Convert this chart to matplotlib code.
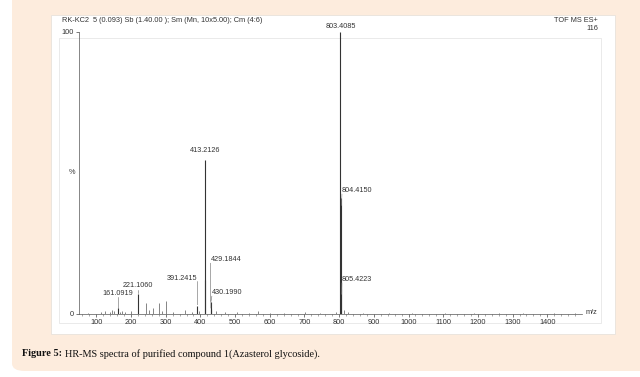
import matplotlib
matplotlib.use("Agg")
import matplotlib.pyplot as plt
from matplotlib.patches import FancyBboxPatch, Rectangle

# ---- data ----
peak_mz = [803.4085, 804.4150, 805.4223, 413.2126, 414.22, 429.1844, 430.1990,
           391.2415, 221.1060, 161.0919]
peak_int = [100.0, 41.0, 9.0, 54.6, 12.0, 4.2, 1.8, 3.0, 7.0, 2.0]

minor_mz = [75, 112, 125, 138, 145, 152, 168, 175, 183, 200, 243, 252, 263, 281, 290,
            301, 322, 355, 375, 397, 445, 472, 505, 540, 565, 602, 640, 701, 745,
            790, 815, 826, 870, 945, 1010, 1105, 1190, 1260, 1330, 1420, 1480]
minor_int = [0.5, 0.8, 1.0, 0.6, 1.5, 1.2, 0.8, 1.0, 0.7, 1.0, 4.0, 1.5, 2.0, 4.0, 1.0,
             4.5, 0.8, 1.5, 0.7, 1.0, 1.0, 0.6, 0.8, 0.5, 0.9, 0.5, 0.5, 0.8, 0.5,
             0.6, 1.5, 0.8, 0.4, 0.4, 0.5, 0.4, 0.4, 0.4, 0.3, 0.4, 0.3]

label_text = ["803.4085", "804.4150", "805.4223", "413.2126", "429.1844",
              "430.1990", "391.2415", "221.1060", "161.0919"]
label_peak = [803.4085, 804.4150, 805.4223, 413.2126, 429.1844, 430.1990,
              391.2415, 221.1060, 161.0919]
label_peak_y = [100.0, 41.0, 9.0, 54.6, 4.2, 1.8, 3.0, 7.0, 2.0]
label_x = [803.4, 808, 808, 413.2, 429.5, 433, 391.2, 221.1, 161.1]
label_y = [100.8, 42.5, 11.0, 56.6, 18.0, 6.3, 11.5, 8.8, 6.2]
label_ha = ["center", "left", "left", "center", "left", "left", "right", "center", "center"]

xticks = [100, 200, 300, 400, 500, 600, 700, 800, 900, 1000, 1100, 1200, 1300, 1400]

W, H = 640, 377
fig = plt.figure(figsize=(6.4, 3.77), dpi=100)
fig.patch.set_facecolor("white")

def fx(px):
    return px / W

def fy(py):
    return 1 - py / H

peach = "#fdecdd"
bg = FancyBboxPatch((fx(12), fy(371)), fx(700) - fx(12), fy(-30) - fy(371),
                    boxstyle="round,pad=0,rounding_size=0.02",
                    transform=fig.transFigure, facecolor=peach, edgecolor="none", zorder=0)
fig.patches.append(bg)
panel = Rectangle((fx(51), fy(334)), fx(615) - fx(51), fy(15) - fy(334),
                  transform=fig.transFigure, facecolor="white", edgecolor="#e8e2dc",
                  linewidth=0.6, zorder=1)
fig.patches.append(panel)
# faint scan frame
frame = Rectangle((fx(59), fy(323)), fx(601) - fx(59), fy(38) - fy(323),
                  transform=fig.transFigure, facecolor="none", edgecolor="#e2e2e2",
                  linewidth=0.5, zorder=2)
fig.patches.append(frame)

ax = fig.add_axes([fx(79), fy(314), fx(582) - fx(79), fy(32) - fy(314)])
ax.set_zorder(3)
ax.patch.set_alpha(0)

col = "#333333"
lab_fs = 5.2
ax.vlines(minor_mz, 0, minor_int, color="#555555", linewidth=0.5)
ax.vlines(peak_mz, 0, peak_int, color=col, linewidth=0.8)

for t, px, py, lx, ly, ha in zip(label_text, label_peak, label_peak_y, label_x, label_y, label_ha):
    ax.text(lx, ly, t, ha=ha, va="bottom", fontsize=lab_fs, color=col,
            family="Liberation Sans")
    if ha == "left" and t not in ("804.4150", "805.4223"):
        ax.plot([lx, px, px], [ly, ly - 2.0, py + 0.3], color="#666666", linewidth=0.4)
    elif ha == "right":
        ax.plot([lx, px], [ly, py + 0.3], color="#666666", linewidth=0.4)
    elif t in ("804.4150", "805.4223"):
        ax.plot([lx, px + 2], [ly, ly - 4], color="#888888", linewidth=0.4)
    elif t in ("221.1060", "161.0919"):
        ax.plot([px, px], [ly - 0.2, py + 0.3], color="#666666", linewidth=0.4)

ax.set_xlim(50, 1500)
ax.set_ylim(0, 100)
ax.set_xticks(xticks)
ax.set_xticks(range(60, 1500, 20), minor=True)
ax.set_yticks([0, 100])
ax.set_yticklabels(["0", "100"])
for s in ("top", "right"):
    ax.spines[s].set_visible(False)
for s in ("left", "bottom"):
    ax.spines[s].set_color("#555555")
    ax.spines[s].set_linewidth(0.5)
ax.tick_params(axis="both", which="major", labelsize=5.3, colors="#444444", length=2.5,
               width=0.5, pad=1)
ax.tick_params(axis="x", which="minor", length=1.5, width=0.4, colors="#666666")
for lab in ax.get_xticklabels() + ax.get_yticklabels():
    lab.set_family("Liberation Sans")
    lab.set_color("#333333")

tfs = 5.3
fig.text(fx(62), fy(21), "RK-KC2  5 (0.093) Sb (1.40.00 ); Sm (Mn, 10x5.00); Cm (4:6)",
         fontsize=tfs, color=col, family="Liberation Sans", va="center", ha="left")
fig.text(fx(598), fy(20), "TOF MS ES+", fontsize=tfs, color=col,
         family="Liberation Sans", va="center", ha="right")
fig.text(fx(598), fy(28), "116", fontsize=tfs, color=col,
         family="Liberation Sans", va="center", ha="right")
fig.text(fx(72), fy(172), "%", fontsize=tfs, color=col,
         family="Liberation Sans", va="center", ha="center")
fig.text(fx(586), fy(313), "m/z", fontsize=tfs, color=col,
         family="Liberation Sans", va="center", ha="left")

cap_fs = 7.4
t1 = fig.text(fx(22), fy(354), "Figure 5:", fontsize=cap_fs, fontweight="bold",
              family="Liberation Serif", color="#111111", va="center", ha="left")
fig.canvas.draw()
bb = t1.get_window_extent()
fig.text(bb.x1 / W + fx(3), fy(354),
         "HR-MS spectra of purified compound 1(Azasterol glycoside).",
         fontsize=cap_fs, family="Liberation Serif", color="#111111", va="center", ha="left")

fig.savefig("out.png", dpi=100, facecolor="white")
